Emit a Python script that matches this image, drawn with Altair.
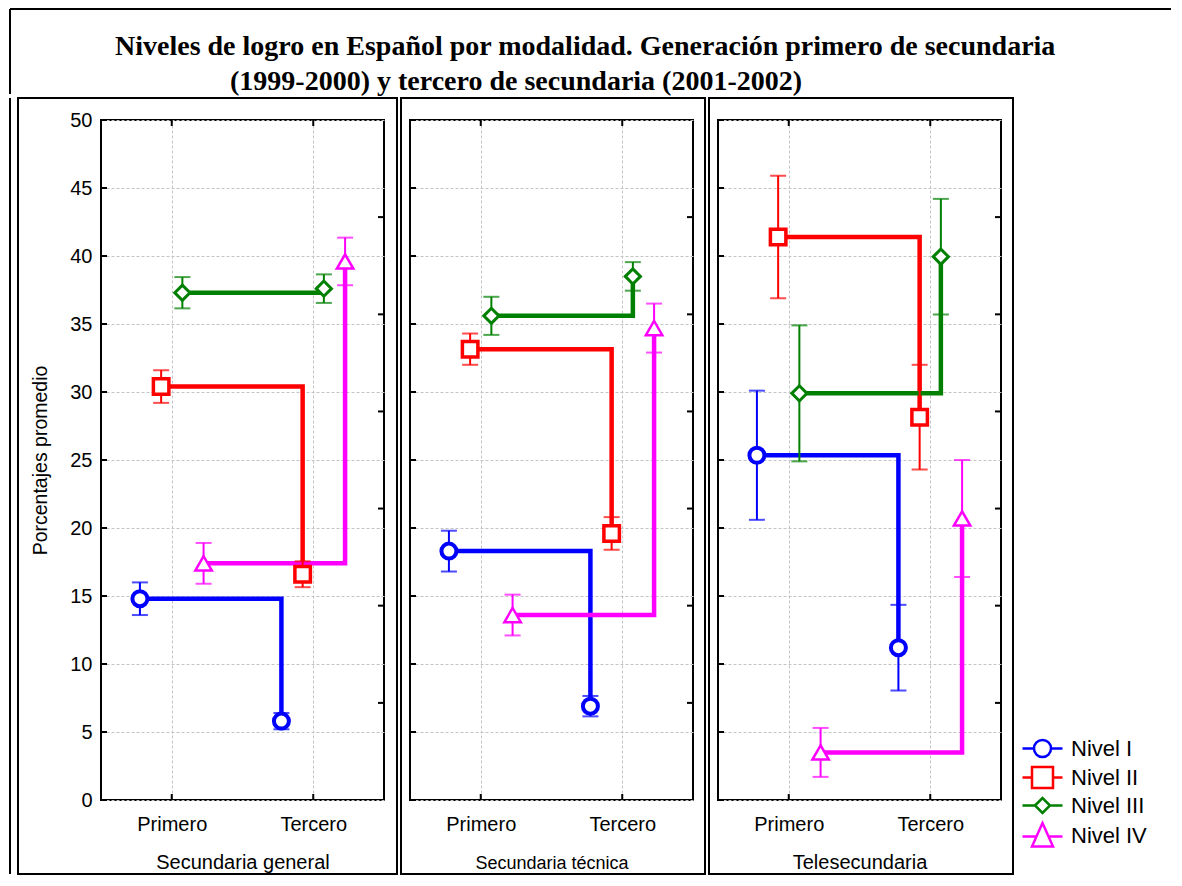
import altair as alt
import pandas as pd

# ---------------- data ----------------
levels = ["Nivel I", "Nivel II", "Nivel III", "Nivel IV"]
grades = ["Primero", "Tercero"]
panels = ["Secundaria general", "Secundaria técnica", "Telesecundaria"]
title_lines = ["Niveles de logro en Español por modalidad. Generación primero de secundaria",
               "(1999-2000) y tercero de secundaria (2001-2002)"]

# Secundaria general
gen_primero = [14.8, 30.4, 37.3, 17.4]
gen_tercero = [5.8, 16.6, 37.6, 39.6]
gen_err_primero = [1.2, 1.2, 1.15, 1.5]
gen_err_tercero = [0.6, 0.95, 1.05, 1.75]

# Secundaria técnica
tec_primero = [18.3, 33.15, 35.6, 13.6]
tec_tercero = [6.9, 19.6, 38.5, 34.7]
tec_err_primero = [1.5, 1.15, 1.4, 1.5]
tec_err_tercero = [0.75, 1.2, 1.05, 1.8]

# Telesecundaria
tel_primero = [25.35, 41.4, 29.9, 3.5]
tel_tercero = [11.2, 28.15, 39.95, 20.7]
tel_err_primero = [4.75, 4.5, 5.0, 1.8]
tel_err_tercero = [3.15, 3.85, 4.25, 4.3]

y_ticks = [0, 5, 10, 15, 20, 25, 30, 35, 40, 45, 50]
right_ticks = [7.14, 14.29, 21.43, 28.57, 35.71, 42.86]

# ---------------- style ----------------
colors = ["#0000ff", "#ff0000", "#008000", "#ff00ff"]
shapes = ["circle", "square", "diamond", "triangle-up"]
sizes = [225, 240, 230, 270]
stroke_widths = [4, 3.5, 3, 2.5]
dodge = [-0.225, -0.075, 0.075, 0.225]
legend_paths = [
    "M-2.0,0H-0.85 M0.85,0H2.0 M-0.85,0A0.85,0.85 0 1,0 0.85,0A0.85,0.85 0 1,0 -0.85,0Z",
    "M-2.0,0H-1.05 M1.05,0H2.0 M-1.05,-1.05H1.05V1.05H-1.05Z",
    "M-2.0,0H-0.75 M0.75,0H2.0 M-0.75,0L0,-0.75L0.75,0L0,0.75Z",
    "M-2.0,0.1H-0.55 M0.55,0.1H2.0 M0,-1.25L1.05,1.1L-1.05,1.1Z",
]

W, H = 283, 680

series = {
    panels[0]: (gen_primero, gen_tercero, gen_err_primero, gen_err_tercero),
    panels[1]: (tec_primero, tec_tercero, tec_err_primero, tec_err_tercero),
    panels[2]: (tel_primero, tel_tercero, tel_err_primero, tel_err_tercero),
}

rows = []
for p, (prim, ter, ep, et) in series.items():
    for k, lev in enumerate(levels):
        for g, (m, e) in enumerate([(prim[k], ep[k]), (ter[k], et[k])]):
            rows.append(dict(panel=p, nivel=lev, g=g, grado=grades[g],
                             xpos=g + dodge[k], mean=m, lo=m - e, hi=m + e,
                             colr=colors[k], shp=shapes[k], sz=sizes[k],
                             sw=stroke_widths[k]))
df = pd.DataFrame(rows)

one = pd.DataFrame({"a": [0]})
ytick_df = pd.DataFrame({"v": y_ticks})
rtick_df = pd.DataFrame({"v": right_ticks})
xtick_df = pd.DataFrame({"v": [0, 1]})
legend_df = pd.DataFrame({"nivel": levels})

XS = alt.Scale(domain=[-0.5, 1.5], nice=False, zero=False)
YS = alt.Scale(domain=[0, 50], nice=False, zero=False)
FRAME = dict(stroke="black", strokeWidth=2)


def make_panel(i):
    pname = panels[i]
    d = df[df.panel == pname]
    x_ax = alt.Axis(values=[0, 1],
                    labelExpr="datum.value == 0 ? 'Primero' : 'Tercero'",
                    title=pname, titleFontSize=20 if i != 1 else 18,
                    titleFontWeight="normal", titlePadding=18 if i != 1 else 20,
                    labelPadding=14, labelFontSize=20)
    y_ax = alt.Axis(values=y_ticks, labels=(i == 0),
                    title="Porcentajes promedio" if i == 0 else None,
                    titleFontSize=19.5, titleFontWeight="normal", titlePadding=19,
                    labelPadding=9, labelFontSize=20)
    X = lambda f: alt.X(f, scale=XS, axis=x_ax)
    Y = lambda f: alt.Y(f, scale=YS, axis=y_ax)

    layers = []
    left = -83 if i == 0 else -9
    # panel frame
    layers.append(alt.Chart(one).mark_rect(filled=False, **FRAME).encode(
        x=alt.value(left), x2=alt.value(296 if i == 0 else 295),
        y=alt.value(-22), y2=alt.value(754)))
    if i == 0:
        # outer frame, left edge (lower part)
        layers.append(alt.Chart(one).mark_rule(**FRAME).encode(
            x=alt.value(-91), y=alt.value(-22), y2=alt.value(754)))

    # connectors
    layers.append(alt.Chart(d).mark_line(interpolate="step-after", strokeWidth=4.5).encode(
        x=X("xpos:Q"), y=Y("mean:Q"), detail="nivel:N",
        stroke=alt.Stroke("colr:N", scale=None), order=alt.Order("g:Q")))
    # error bars
    layers.append(alt.Chart(d).mark_rule(strokeWidth=2).encode(
        x=X("xpos:Q"), y=Y("lo:Q"), y2="hi:Q", stroke=alt.Stroke("colr:N", scale=None)))
    for f in ["lo", "hi"]:
        layers.append(alt.Chart(d).mark_tick(orient="horizontal", size=16, thickness=2).encode(
            x=X("xpos:Q"), y=Y(f + ":Q"), fill=alt.Fill("colr:N", scale=None)))
    # markers
    layers.append(alt.Chart(d).mark_point(filled=True, opacity=1).encode(
        x=X("xpos:Q"), y=Y("mean:Q"), fill=alt.value("white"),
        stroke=alt.Stroke("colr:N", scale=None), shape=alt.Shape("shp:N", scale=None),
        size=alt.Size("sz:Q", scale=None), strokeWidth=alt.StrokeWidth("sw:Q", scale=None)))
    # inward ticks
    layers.append(alt.Chart(ytick_df).mark_rule(**FRAME).encode(
        y=Y("v:Q"), x=alt.value(0), x2=alt.value(6)))
    layers.append(alt.Chart(rtick_df).mark_rule(**FRAME).encode(
        y=Y("v:Q"), x=alt.value(W - 6), x2=alt.value(W)))
    layers.append(alt.Chart(xtick_df).mark_rule(**FRAME).encode(
        x=X("v:Q"), y=alt.value(0), y2=alt.value(6)))
    layers.append(alt.Chart(xtick_df).mark_rule(**FRAME).encode(
        x=X("v:Q"), y=alt.value(H - 6), y2=alt.value(H)))

    if i == 2:
        leg = alt.Legend(title=None, orient="none", legendX=930, legendY=728,
                         symbolSize=400, symbolStrokeWidth=2.5, labelFontSize=22,
                         labelFont="Liberation Sans", labelOffset=17, rowPadding=0,
                         padding=0, labelColor="black")
        layers.append(alt.Chart(legend_df).mark_point(filled=False, opacity=1).encode(
            color=alt.Color("nivel:N", scale=alt.Scale(domain=levels, range=colors), legend=leg),
            shape=alt.Shape("nivel:N", scale=alt.Scale(domain=levels, range=legend_paths), legend=leg),
        ).transform_filter("false"))

    return alt.layer(*layers).properties(
        width=W, height=H, view=alt.ViewBackground(stroke="black", strokeWidth=2))


# title block (origin aligned with the first panel's plot area)
t1 = pd.DataFrame({"t": [title_lines[0]]})
t2 = pd.DataFrame({"t": [title_lines[1]]})
TXT = dict(font="Liberation Serif", fontSize=28, fontWeight="bold", color="black",
           align="left", baseline="alphabetic")
title_block = alt.layer(
    alt.Chart(one).mark_rule(**FRAME).encode(
        x=alt.value(-91), x2=alt.value(1070), y=alt.value(0)),
    alt.Chart(one).mark_rule(**FRAME).encode(
        x=alt.value(-91), y=alt.value(0), y2=alt.value(85)),
    alt.Chart(t1).mark_text(**TXT).encode(text="t:N", x=alt.value(14), y=alt.value(46)),
    alt.Chart(t2).mark_text(**TXT).encode(text="t:N", x=alt.value(129), y=alt.value(81)),
).properties(width=1, height=1)

panels_row = alt.hconcat(make_panel(0), make_panel(1), make_panel(2), spacing=0)

chart = alt.vconcat(title_block, panels_row, spacing=0).properties(
    padding=0
).configure_view(stroke=None).configure_axis(
    domain=False, ticks=False, grid=True, gridDash=[3, 2], gridColor="#c4c4c4",
    gridWidth=1, labelFont="Liberation Sans", titleFont="Liberation Sans",
    labelColor="black", titleColor="black",
)

chart.save("out.html", embed_options={"renderer": "svg", "actions": False})
